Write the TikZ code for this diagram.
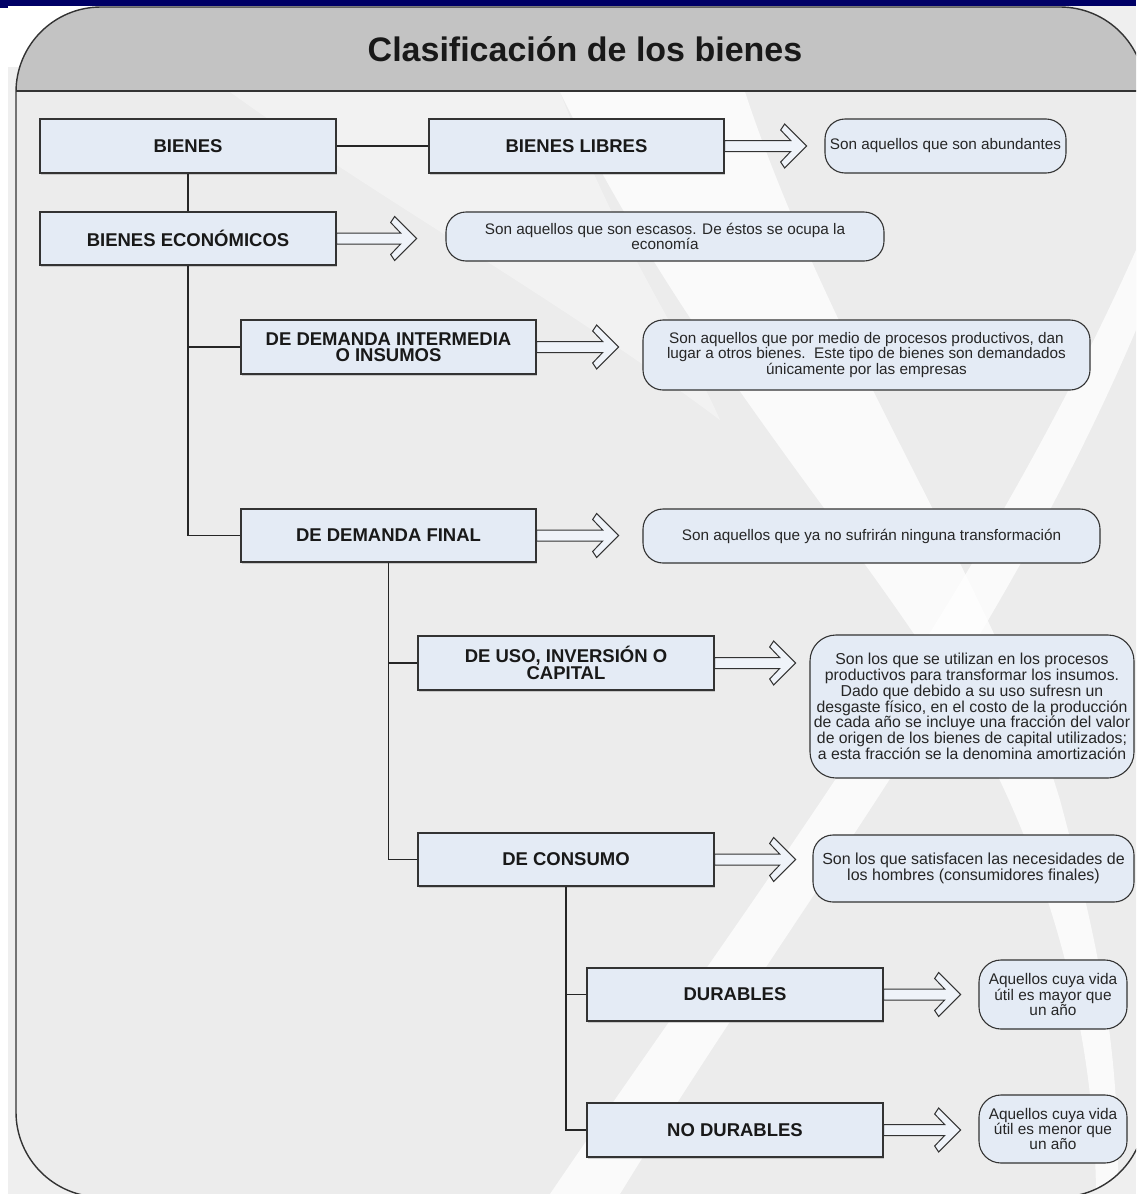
\documentclass[tikz,border=0pt]{standalone}
\usepackage{fontspec}
\setmainfont{Liberation Sans}
\usetikzlibrary{shadows}
\definecolor{navy}{HTML}{000066}
\definecolor{hdr}{HTML}{C3C3C3}
\definecolor{bodyg}{HTML}{ECECEC}
\definecolor{outerg}{HTML}{EFEFEF}
\definecolor{boxfill}{HTML}{E4EBF5}
\definecolor{edge}{HTML}{333333}
\tikzset{
  lbl/.style={draw=edge, line width=1.3pt, fill=boxfill, align=center,
    font=\fontsize{18.5}{16.5}\selectfont\bfseries, text=black!90, inner sep=0pt,
    minimum width=296pt, minimum height=54pt,
    drop shadow={shadow xshift=1pt, shadow yshift=-1.5pt, opacity=.35}},
  desc/.style={draw=edge, line width=1.1pt, fill=boxfill, rounded corners=20pt,
    align=center, inner sep=0pt, font=\fontsize{15.3}{12.5}\selectfont, text=black!85},
  link/.style={draw=black!85, line width=1.3pt},
  harrow/.style={draw=edge, line width=1pt, fill=boxfill!60!white, line join=miter},
  band/.style={fill=white, opacity=.75},
}
\newcommand\hollowarrow[2]{%
  \draw[harrow] (#1.east) ++(0,-5.5) -- ++(#2-16,0) -- ++(-10,-10.5) -- ++(4,-6)
    -- ++(22,22) -- ++(-22,22) -- ++(-4,-6) -- ++(10,-10.5) -- ++(-#2+16,0) -- cycle;}
\begin{document}
\begin{tikzpicture}[x=1pt,y=-1pt]
\useasboundingbox (0,0) rectangle (1136,1194);
\clip (0,0) rectangle (1136,1194);
% outer background
\fill[white] (0,0) rectangle (1136,1194);
\fill[outerg] (8,67) rectangle (1136,1194);
\fill[outerg] (700,6) rectangle (1136,67);
\fill[navy] (0,0) rectangle (1136,6);
\fill[navy] (0,0) rectangle (8,8);
% panel
\begin{scope}
  \clip[rounded corners=85pt] (16,7) rectangle (1145,1197);
  \fill[hdr] (0,0) rectangle (1200,91);
  \fill[bodyg] (0,91) rectangle (1200,1200);
  \begin{scope}
    \clip (0,92) rectangle (1200,1200);
    \fill[band] (560,92) -- (745,92) .. controls (830,350) and (1000,600) .. (1060,800)
      .. controls (1100,950) and (1120,1050) .. (1118,1194) -- (1096,1194)
      .. controls (1095,1050) and (1060,900) .. (990,760)
      .. controls (900,580) and (700,380) .. (560,92) -- cycle;
    \fill[band] (1136,250) -- (1136,330) .. controls (1000,650) and (800,900) .. (620,1194)
      -- (550,1194) .. controls (750,900) and (980,600) .. (1136,250) -- cycle;
    \fill[white, opacity=.35] (230,92) -- (560,92) .. controls (620,250) and (680,330) .. (720,420)
      .. controls (560,300) and (380,200) .. (230,92) -- cycle;
  \end{scope}
\end{scope}
\draw[edge, line width=1.4pt, rounded corners=85pt] (16,7) rectangle (1145,1197);
\draw[edge, line width=1.4pt] (16,91) -- (1145,91);
\node[font=\fontsize{34}{40}\selectfont\bfseries, text=black!90, anchor=base] (title) at (585,61) {Clasificación de los bienes};

% label boxes
\node[lbl] (bienes) at (188,146) {BIENES};
\node[lbl, minimum width=295pt] (libres) at (576.5,146) {BIENES LIBRES};
\node[lbl, minimum height=53pt] (econ) at (188,238.5) {BIENES ECONÓMICOS};
\node[lbl, minimum width=295pt] (inter) at (388.5,347) {DE DEMANDA INTERMEDIA\\O INSUMOS};
\node[lbl, minimum width=295pt, minimum height=53pt] (final) at (388.5,535.5) {DE DEMANDA FINAL};
\node[lbl] (uso) at (566,663) {DE USO, INVERSIÓN O\\CAPITAL};
\node[lbl, minimum height=53pt] (consumo) at (566,859.5) {DE CONSUMO};
\node[lbl, minimum height=53pt] (durables) at (735,994.5) {DURABLES};
\node[lbl] (nodur) at (735,1130) {NO DURABLES};

% connectors
\draw[link] (bienes) -- (libres);
\draw[link] (bienes) -- (econ);
\draw[link] (econ.south) |- (inter.west);
\draw[link] (econ.south) |- (final.west);
\draw[link] (final.south) |- (uso.west);
\draw[link] (final.south) |- (consumo.west);
\draw[link] (consumo.south) |- (durables.west);
\draw[link] (consumo.south) |- (nodur.west);

% description boxes
\node[desc, minimum width=241pt, minimum height=54pt] (d1) at (945.5,146) {Son aquellos que son abundantes};
\node[desc, minimum width=438pt, minimum height=49pt, font=\fontsize{15.3}{14}\selectfont] (d2) at (665,236.5) {Son aquellos que son escasos. De éstos se ocupa la\\economía};
\node[desc, minimum width=447pt, minimum height=70pt] (d3) at (866.5,355) {Son aquellos que por medio de procesos productivos, dan\\lugar a otros bienes.\ \ Este tipo de bienes son demandados\\únicamente por las empresas};
\node[desc, minimum width=457pt, minimum height=54pt] (d4) at (871.5,536) {Son aquellos que ya no sufrirán ninguna transformación};
\node[desc, minimum width=324pt, minimum height=143pt, rounded corners=26pt, font=\fontsize{15.8}{12.4}\selectfont] (d5) at (972,706.5) {Son los que se utilizan en los procesos\\productivos para transformar los insumos.\\Dado que debido a su uso sufresn un\\desgaste físico, en el costo de la producción\\de cada año se incluye una fracción del valor\\de origen de los bienes de capital utilizados;\\a esta fracción se la denomina amortización};
\node[desc, minimum width=321pt, minimum height=67pt, font=\fontsize{16}{14}\selectfont] (d6) at (973.5,868.5) {Son los que satisfacen las necesidades de\\los hombres (consumidores finales)};
\node[desc, minimum width=148pt, minimum height=69pt, rounded corners=22pt, font=\fontsize{15.4}{14}\selectfont] (d7) at (1053,994.5) {Aquellos cuya vida\\útil es mayor que\\un año};
\node[desc, minimum width=148pt, minimum height=68pt, rounded corners=22pt, font=\fontsize{15.4}{14}\selectfont] (d8) at (1053,1129) {Aquellos cuya vida\\útil es menor que\\un año};

% hollow arrows
\hollowarrow{libres}{82}
\hollowarrow{econ}{80}
\hollowarrow{inter}{82}
\hollowarrow{final}{82}
\hollowarrow{uso}{81}
\hollowarrow{consumo}{81}
\hollowarrow{durables}{77}
\hollowarrow{nodur}{77}
\end{tikzpicture}
\end{document}
